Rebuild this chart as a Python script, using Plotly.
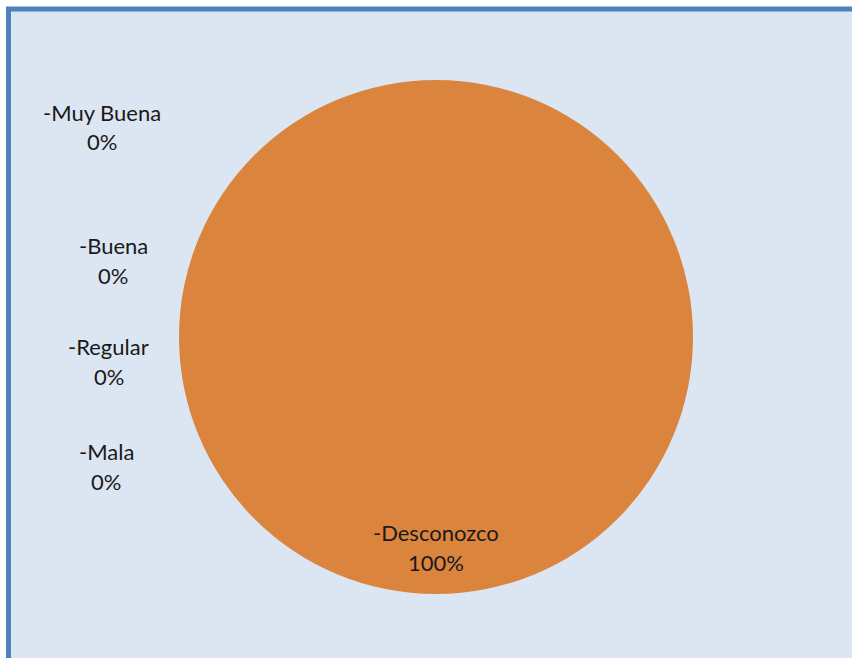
import plotly.graph_objects as go

# Survey answer categories and their shares (percent)
categories = ['-Muy Buena', '-Buena', '-Regular', '-Mala', '-Desconozco']
values = [0, 0, 0, 0, 100]
pct_labels = ['0%', '0%', '0%', '0%', '100%']

colors = ['#4F81BD', '#C0504D', '#9BBB59', '#8064A2', '#DB843D']

W, H = 852, 658
# label centres in pixels (x, y of the name line)
label_pos = [(102, 112), (113, 245), (109, 346), (106, 451), (436, 532)]

fig = go.Figure()
fig.add_trace(go.Pie(
    labels=categories,
    values=values,
    marker=dict(colors=colors, line=dict(width=0)),
    textinfo='none',
    sort=False,
    direction='clockwise',
    showlegend=False,
    hoverinfo='label+percent',
    domain=dict(x=[179 / W, 693 / W], y=[1 - 594 / H, 1 - 80 / H]),
))

# chart area background with the blue border on top / left
fig.add_shape(type='rect', xref='paper', yref='paper',
              x0=8.5 / W, x1=1.05, y0=-0.05, y1=1 - 9 / H,
              line=dict(color='#4F81BD', width=5), fillcolor='#DCE6F2',
              layer='below')

font = dict(family='Lato, Open Sans, sans-serif', size=22, color='#1a1a1a')
for (name, pct, (px_, py_)) in zip(categories, pct_labels, label_pos):
    fig.add_annotation(x=px_ / W, y=1 - py_ / H, xref='paper', yref='paper',
                       text=name, showarrow=False, xanchor='center', yanchor='middle',
                       font=font)
    fig.add_annotation(x=px_ / W, y=1 - (py_ + 30) / H, xref='paper', yref='paper',
                       text=pct, showarrow=False, xanchor='center', yanchor='middle',
                       font=font)

fig.update_layout(
    width=W, height=H,
    margin=dict(l=0, r=0, t=0, b=0),
    paper_bgcolor='white',
    plot_bgcolor='white',
)

# drop the default body margin so the figure sits at the page corner
fig.write_html("out.html", config={'displayModeBar': False},
               post_script="document.body.style.margin='0';document.body.style.overflow='hidden';")
